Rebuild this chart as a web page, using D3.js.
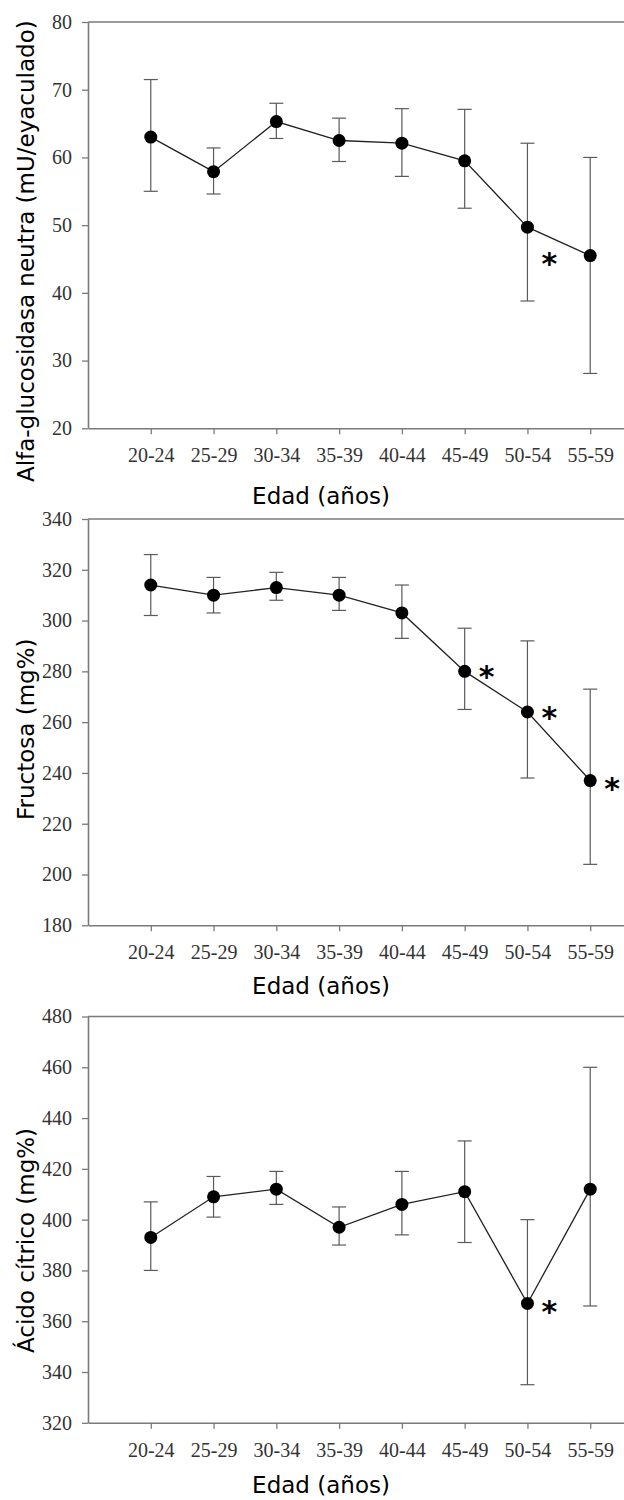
<!DOCTYPE html>
<html>
<head>
<meta charset="utf-8">
<script src="https://cdn.jsdelivr.net/npm/d3@7/dist/d3.min.js"></script>
<style>
  html, body { margin: 0; padding: 0; background: #fff; }
  svg { display: block; }
</style>
</head>
<body>
<div id="chart"></div>
<script>
// Age groups shared by all three panels
const ageGroups = ["20-24", "25-29", "30-34", "35-39", "40-44", "45-49", "50-54", "55-59"];

// Neutral alpha-glucosidase (mU/ejaculate): mean and error-bar limits
const alfaMean = [63.0, 57.9, 65.3, 62.5, 62.1, 59.5, 49.7, 45.5];
const alfaHigh = [71.5, 61.4, 68.0, 65.8, 67.2, 67.1, 62.1, 60.0];
const alfaLow  = [55.0, 54.6, 62.8, 59.4, 57.2, 52.5, 38.8, 28.1];
const alfaTicks = [20, 30, 40, 50, 60, 70, 80];
const alfaSignif = [{ group: "50-54", value: 45.1 }];

// Fructose (mg%)
const fructMean = [314, 310, 313, 310, 303, 280, 264, 237];
const fructHigh = [326, 317, 319, 317, 314, 297, 292, 273];
const fructLow  = [302, 303, 308, 304, 293, 265, 238, 204];
const fructTicks = [180, 200, 220, 240, 260, 280, 300, 320, 340];
const fructSignif = [
  { group: "45-49", value: 280 },
  { group: "50-54", value: 264 },
  { group: "55-59", value: 236 }
];

// Citric acid (mg%)
const citMean = [393, 409, 412, 397, 406, 411, 367, 412];
const citHigh = [407, 417, 419, 405, 419, 431, 400, 460];
const citLow  = [380, 401, 406, 390, 394, 391, 335, 366];
const citTicks = [320, 340, 360, 380, 400, 420, 440, 460, 480];
const citSignif = [{ group: "50-54", value: 366 }];

const xTitle = "Edad (años)";

const panels = [
  { mean: alfaMean, high: alfaHigh, low: alfaLow, ticks: alfaTicks, signif: alfaSignif,
    yTitle: "Alfa-glucosidasa neutra (mU/eyaculado)",
    top: 22, titleGap: 76, yTitleStart: 482 },
  { mean: fructMean, high: fructHigh, low: fructLow, ticks: fructTicks, signif: fructSignif,
    yTitle: "Fructosa (mg%)",
    top: 519, titleGap: 69, yTitleStart: 820 },
  { mean: citMean, high: citHigh, low: citLow, ticks: citTicks, signif: citSignif,
    yTitle: "Ácido cítrico (mg%)",
    top: 1016.5, titleGap: 70, yTitleStart: 1353 }
];

const W = 624, H = 1500;
const plotLeft = 88, plotRight = 653, plotHeight = 406.3;
const axisColor = "#7a7a7a";

const svg = d3.select("#chart").append("svg")
  .attr("width", W).attr("height", H)
  .attr("viewBox", `0 0 ${W} ${H}`);

const x = d3.scalePoint().domain(ageGroups).range([plotLeft, plotRight]).padding(1);

panels.forEach(p => {
  const bottom = p.top + plotHeight;
  const y = d3.scaleLinear()
    .domain([d3.min(p.ticks), d3.max(p.ticks)])
    .range([bottom, p.top]);

  const g = svg.append("g");

  // frame top edge
  g.append("line")
    .attr("x1", plotLeft).attr("x2", plotRight)
    .attr("y1", p.top).attr("y2", p.top)
    .attr("stroke", axisColor).attr("stroke-width", 1.6);

  // left axis
  const yAxis = g.append("g")
    .attr("transform", `translate(${plotLeft},0)`)
    .call(d3.axisLeft(y).tickValues(p.ticks).tickSize(6).tickSizeOuter(0).tickPadding(10).tickFormat(d3.format("d")));

  // bottom axis
  const xAxis = g.append("g")
    .attr("transform", `translate(0,${bottom})`)
    .call(d3.axisBottom(x).tickSize(6).tickSizeOuter(0).tickPadding(14));

  [yAxis, xAxis].forEach(a => {
    a.select(".domain").attr("stroke", axisColor).attr("stroke-width", 1.6);
    a.selectAll(".tick line").attr("stroke", axisColor).attr("stroke-width", 1.3);
    a.selectAll(".tick text")
      .attr("fill", "#333")
      .style("font-family", "'Liberation Serif', 'Times New Roman', serif")
      .style("font-size", "20px");
  });

  const rows = ageGroups.map((grp, i) => ({ grp, m: p.mean[i], hi: p.high[i], lo: p.low[i] }));

  // error bars
  const eb = g.append("g").attr("stroke", "#5a5a5a").attr("stroke-width", 1.2).attr("fill", "none");
  rows.forEach(r => {
    const cx = x(r.grp);
    eb.append("line").attr("x1", cx).attr("x2", cx).attr("y1", y(r.hi)).attr("y2", y(r.lo));
    eb.append("line").attr("x1", cx - 7).attr("x2", cx + 7).attr("y1", y(r.hi)).attr("y2", y(r.hi));
    eb.append("line").attr("x1", cx - 7).attr("x2", cx + 7).attr("y1", y(r.lo)).attr("y2", y(r.lo));
  });

  // connecting line
  g.append("path")
    .datum(rows)
    .attr("fill", "none")
    .attr("stroke", "#222")
    .attr("stroke-width", 1.3)
    .attr("d", d3.line().x(r => x(r.grp)).y(r => y(r.m)));

  // markers
  g.selectAll("circle.pt").data(rows).join("circle")
    .attr("class", "pt")
    .attr("cx", r => x(r.grp)).attr("cy", r => y(r.m))
    .attr("r", 6.5).attr("fill", "#000");

  // significance asterisks
  g.selectAll("text.sig").data(p.signif).join("text")
    .attr("class", "sig")
    .attr("x", s => x(s.group) + 22)
    .attr("y", s => y(s.value) + 16)
    .attr("text-anchor", "middle")
    .style("font-family", "'DejaVu Sans', sans-serif")
    .style("font-weight", "bold")
    .style("font-size", "30px")
    .attr("fill", "#000")
    .text("*");

  // axis titles
  g.append("text")
    .attr("x", 321).attr("y", bottom + p.titleGap)
    .attr("text-anchor", "middle")
    .style("font-family", "'DejaVu Sans', sans-serif")
    .style("font-size", "23px")
    .attr("fill", "#000")
    .text(xTitle);

  g.append("text")
    .attr("transform", `translate(34,${p.yTitleStart}) rotate(-90)`)
    .attr("text-anchor", "start")
    .style("font-family", "'DejaVu Sans', sans-serif")
    .style("font-size", "23px")
    .attr("fill", "#000")
    .text(p.yTitle);
});
</script>
</body>
</html>
